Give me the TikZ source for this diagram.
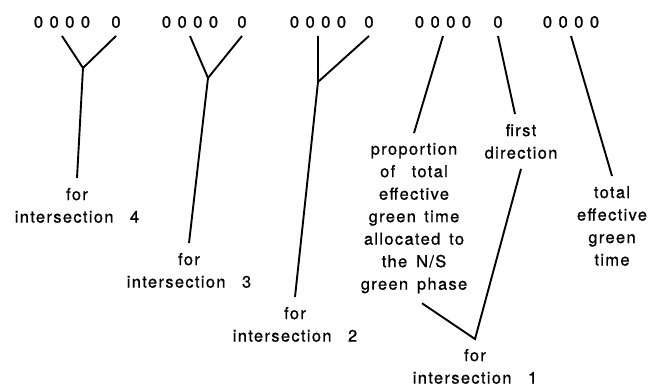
\documentclass[tikz,border=0pt]{standalone}
\usepackage{fontspec}
\setmainfont{TeX Gyre Heros}[LetterSpace=8,WordSpace=1.5,FakeBold=0.8]
\newfontfamily\digitfont{TeX Gyre Heros}[FakeBold=1.2]
\newcommand{\zeros}{0\hspace{6.5pt}0\hspace{6.5pt}0\hspace{6.5pt}0}

\begin{document}
\begin{tikzpicture}[x=1pt, y=-1pt,
    digits/.style={font=\digitfont\fontsize{16.5}{19}\selectfont, inner sep=0pt, outer sep=8pt},
    caption/.style={align=center, font=\fontsize{16.5}{22.5}\selectfont, inner sep=0pt, outer sep=10pt, anchor=north},
    link/.style={line width=1.9pt}]
    \useasboundingbox (0,0) rectangle (663,389);
    % field groups along the top
    \node [digits] (z4) at (62,22) {\zeros};
    \node [digits] (o4) at (116,22) {0};
    \node [digits] (z3) at (190,22) {\zeros};
    \node [digits] (o3) at (242,22) {0};
    \node [digits] (z2) at (318,22) {\zeros};
    \node [digits] (o2) at (369,22) {0};
    \node [digits] (z1) at (443,22) {\zeros};
    \node [digits] (o1) at (498,22) {0};
    \node [digits] (zt) at (571,22) {\zeros};
    % forks
    \coordinate (f4) at (83,68);
    \coordinate (f3) at (208,78);
    \coordinate (f2) at (318,82);
    % captions
    \node [caption] (int4) at (77,178) {for\\intersection\quad 4};
    \node [caption] (int3) at (189,243) {for\\intersection\quad 3};
    \node [caption] (int2) at (295,297) {for\\intersection\quad 2};
    \node [caption] (int1) at (475,339) {for\\intersection\quad 1};
    \node [caption] (prop) at (414,133) {proportion\\of\quad total\\effective\\green\enskip time\\allocated to\\the N/S\\green phase};
    \node [caption] (dir) at (521,114) {first\\direction};
    \node [caption] (tot) at (612,176) {total\\effective\\green\\time};
    % connectors
    \draw [link] (z4.south) -- (f4) -- (o4.south);
    \draw [link] (f4) -- (int4.north);
    \draw [link] (z3.south) -- (f3) -- (o3.south);
    \draw [link] (f3) -- (int3.north);
    \draw [link] (z2.south) -- (f2) -- (o2.south);
    \draw [link] (f2) -- (int2.north);
    \draw [link] (z1.south) -- (prop.north);
    \draw [link] (o1.south) -- ([xshift=-6pt]dir.north);
    \draw [link] ([xshift=8pt]prop.south) -- (int1.north) -- (dir.south);
    \draw [link] (zt.south) -- (tot.north);
\end{tikzpicture}
\end{document}
